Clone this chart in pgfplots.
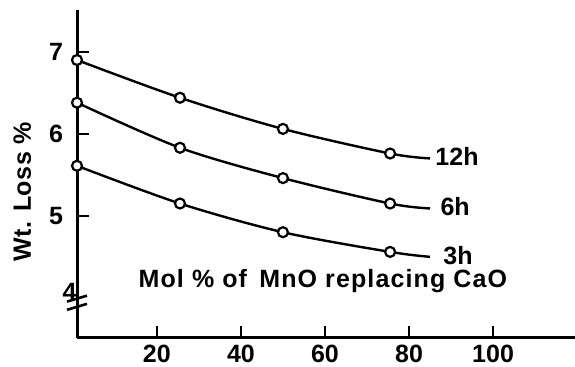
\documentclass[border=0pt]{standalone}
\usepackage{fontspec}
\setmainfont{Liberation Sans}
\usepackage{pgfplots}
\pgfplotsset{compat=1.18}
\usetikzlibrary{calc}
\begin{document}
\begin{tikzpicture}
\begin{axis}[
  name=ax,
  scale only axis,
  width=249pt, height=164pt,
  xmin=1, xmax=119.5, ymin=3.51, ymax=7.51,
  axis lines*=left,
  axis line style={line width=1.5pt, black},
  xtick={20,40,60,80,100}, ytick={5,6,7},
  tick align=inside,
  major tick length=6pt,
  tick style={line width=1.3pt, black},
  /pgf/number format/assume math mode=true,
  ticklabel style={font=\fontsize{12.5}{13}\selectfont\bfseries},
  yticklabel style={xshift=-3.5pt},
  ylabel={Wt. Loss \%},
  ylabel style={at={(axis description cs:-0.11,0.445)}, anchor=center,
    font=\fontsize{12.5}{14}\selectfont\bfseries\addfontfeature{LetterSpace=2}},
  clip=false,
]
\addplot[black, line width=1.2pt, smooth, tension=0.5, mark=*, mark size=2.5pt,
  mark options={fill=white, draw=black, line width=1.1pt}, mark indices={1,2,3,4}]
  coordinates {(1,6.90) (25.5,6.44) (50,6.06) (75.5,5.76) (85,5.70)};
\addplot[black, line width=1.2pt, smooth, tension=0.5, mark=*, mark size=2.5pt,
  mark options={fill=white, draw=black, line width=1.1pt}, mark indices={1,2,3,4}]
  coordinates {(1,6.38) (25.5,5.83) (50,5.46) (75.5,5.15) (85,5.09)};
\addplot[black, line width=1.2pt, smooth, tension=0.5, mark=*, mark size=2.5pt,
  mark options={fill=white, draw=black, line width=1.1pt}, mark indices={1,2,3,4}]
  coordinates {(1,5.61) (25.5,5.15) (50,4.80) (75.5,4.56) (85,4.50)};
\node[anchor=west, inner sep=0pt, font=\fontsize{12.5}{14}\selectfont\bfseries] at (axis cs:86.2,5.73) {12h};
\node[anchor=west, inner sep=0pt, font=\fontsize{12.5}{14}\selectfont\bfseries] at (axis cs:87.4,5.11) {6h};
\node[anchor=west, inner sep=0pt, font=\fontsize{12.5}{14}\selectfont\bfseries] at (axis cs:88.1,4.52) {3h};
\node[anchor=center, inner sep=0pt, font=\fontsize{12.5}{14}\selectfont\bfseries\addfontfeature{LetterSpace=4.5}] at (axis cs:59.5,4.20) {Mol \% of\, MnO replacing CaO};
\node[anchor=east, inner sep=0pt, font=\fontsize{12.5}{13}\selectfont\bfseries] at (axis cs:1,4.07) {4\hspace{9pt}};
\draw[line width=1.3pt] ($(axis cs:1,3.99)+(-5pt,-1.5pt)$) -- ++(10pt,3pt);
\draw[line width=1.3pt] ($(axis cs:1,3.89)+(-5pt,-1.5pt)$) -- ++(10pt,3pt);
\end{axis}
\pgfresetboundingbox
\path[use as bounding box] ($(ax.south west)+(-38.5pt,-14.5pt)$) rectangle ($(ax.north east)+(0pt,5pt)$);
\end{tikzpicture}
\end{document}
